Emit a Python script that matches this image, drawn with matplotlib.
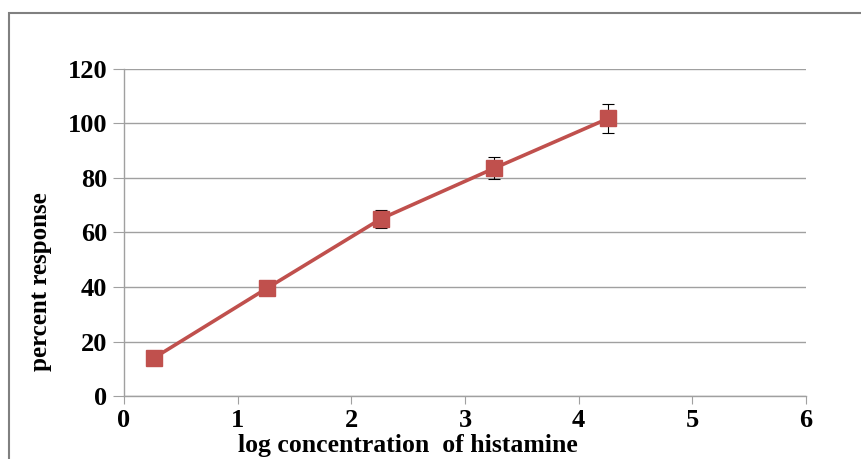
import matplotlib
matplotlib.use("Agg")
from matplotlib import pyplot as plt
from matplotlib.patches import Rectangle

# data
log_conc = [0.26, 1.26, 2.26, 3.26, 4.26]
response = [13.9, 39.6, 65.0, 83.6, 101.8]
errors = [1.0, 1.5, 3.2, 4.0, 5.2]

x_ticks = [0, 1, 2, 3, 4, 5, 6]
y_ticks = [0, 20, 40, 60, 80, 100, 120]

plt.rcParams['font.family'] = ['Liberation Serif', 'DejaVu Serif']
plt.rcParams['font.weight'] = 'bold'

fig = plt.figure(figsize=(8.61, 4.59), dpi=100)
ax = fig.add_axes([0.144, 0.137, 0.792, 0.713])

# outer chart frame
fig.patches.append(Rectangle((9/861, -0.1), 1.2, (459-13)/459 + 0.1,
                             transform=fig.transFigure, fill=False,
                             edgecolor='#808080', linewidth=1.5))

ax.errorbar(log_conc, response, yerr=errors, color='#C0504D', linewidth=2.6,
            marker='s', markersize=12, markerfacecolor='#C0504D',
            markeredgecolor='#C0504D', ecolor='black', elinewidth=0.8,
            capsize=4.5, capthick=0.8, zorder=3)

ax.set_xlim(0, 6)
ax.set_ylim(0, 120)
ax.set_xticks(x_ticks)
ax.set_yticks(y_ticks)
ax.grid(axis='y', color='#a0a0a0', linewidth=1)
ax.set_axisbelow(True)

for s in ['top', 'right']:
    ax.spines[s].set_visible(False)
for s in ['left', 'bottom']:
    ax.spines[s].set_color('#a0a0a0')
    ax.spines[s].set_linewidth(1)

ax.tick_params(axis='x', direction='out', length=6, color='#a0a0a0', labelsize=19, pad=3)
ax.tick_params(axis='y', direction='out', length=8, color='#a0a0a0', labelsize=19, pad=4)
for lab in ax.get_xticklabels() + ax.get_yticklabels():
    lab.set_fontweight('bold')

ax.set_xlabel('log concentration  of histamine', fontsize=18.5, fontweight='bold', va='top')
ax.xaxis.set_label_coords(0.416, -0.115)
ax.set_ylabel('percent response', fontsize=18, fontweight='bold', va='center')
ax.yaxis.set_label_coords(-0.123, 0.35)

fig.savefig('out.png', dpi=100)
